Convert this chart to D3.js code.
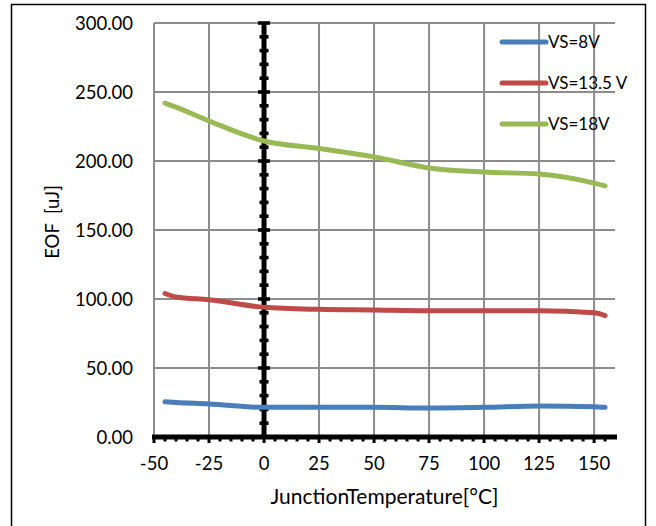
<!DOCTYPE html>
<html>
<head>
<meta charset="utf-8">
<script src="https://cdn.jsdelivr.net/npm/d3@7"></script>
<style>
  body { margin: 0; background: #fff; }
  svg { font-family: Lato, "Open Sans", sans-serif; }
</style>
</head>
<body>
<div id="chart"></div>
<script>
// temperatures (°C) and EOF values (uJ)
var temps = [-45, -40, -25, 0, 25, 50, 75, 100, 125, 150, 155];
var vs8   = [25.5, 25, 24, 21.5, 21.5, 21.5, 21, 21.5, 22.5, 22, 21.5];
var vs135 = [104, 101.5, 99.5, 94, 92.5, 92, 91.5, 91.5, 91.5, 90, 88];
var vs18  = [242, 239, 229, 214.5, 209, 203, 195, 192, 190.5, 184, 182];
var seriesNames = ["VS=8V", "VS=13.5 V", "VS=18V"];
var seriesColors = ["#4a7ebb", "#be4b48", "#98b954"];
var xTicks = [-50, -25, 0, 25, 50, 75, 100, 125, 150];
var yTicks = [0, 50, 100, 150, 200, 250, 300];

var W = 656, H = 526;
var margin = {top: 23, right: 41, bottom: 89, left: 154},
  width = W - margin.left - margin.right,
  height = H - margin.top - margin.bottom;

var svg = d3.select("#chart").append("svg")
  .attr("width", W)
  .attr("height", H);

// outer frame
svg.append("rect")
  .attr("x", 11.5).attr("y", 4.5)
  .attr("width", 634).attr("height", 540)
  .attr("fill", "none").attr("stroke", "#000").attr("stroke-width", 1.5);

var g = svg.append("g")
  .attr("transform", "translate(" + margin.left + "," + margin.top + ")");

var x = d3.scaleLinear().domain([-50, 159.5]).range([0, width]);
var y = d3.scaleLinear().domain([0, 300]).range([height, 0]);

// grid
g.selectAll(".hgrid").data(yTicks.slice(1)).enter().append("line")
  .attr("x1", 0).attr("x2", width)
  .attr("y1", function(d){ return y(d); }).attr("y2", function(d){ return y(d); })
  .attr("stroke", "#8c8c8c").attr("stroke-width", 2);
g.selectAll(".vgrid").data(xTicks).enter().append("line")
  .attr("x1", function(d){ return x(d); }).attr("x2", function(d){ return x(d); })
  .attr("y1", 0).attr("y2", height)
  .attr("stroke", "#8c8c8c").attr("stroke-width", 2);

// x axis: thick line with minor ticks below
var xAxis = g.append("g").attr("transform", "translate(0," + height + ")");
xAxis.append("line").attr("x1", -2).attr("x2", width + 2)
  .attr("stroke", "#000").attr("stroke-width", 5);
xAxis.selectAll(".xminor").data(d3.range(-50, 160, 5)).enter().append("rect")
  .attr("x", function(d){ return x(d) - 1.5; })
  .attr("y", 0)
  .attr("width", 3)
  .attr("height", function(d){ return d % 25 === 0 ? 6 : 4.5; });
xAxis.selectAll(".xlab").data(xTicks).enter().append("text")
  .attr("x", function(d){ return x(d); })
  .attr("y", 33)
  .attr("text-anchor", "middle")
  .style("font-size", "18.5px")
  .text(function(d){ return d; });

// y axis crossing at x=0, with ticks both sides
var yAxis = g.append("g").attr("transform", "translate(" + x(0) + ",0)");
yAxis.append("line").attr("y1", -1).attr("y2", height)
  .attr("stroke", "#000").attr("stroke-width", 5);
yAxis.selectAll(".yminor").data(d3.range(0, 301, 10)).enter().append("rect")
  .attr("x", function(d){ return d % 50 === 0 ? -6 : -4.5; })
  .attr("y", function(d){ return y(d) - 1.8; })
  .attr("width", function(d){ return d % 50 === 0 ? 12 : 9; })
  .attr("height", 3.6);

// y tick labels at left of plot
g.selectAll(".ylab").data(yTicks).enter().append("text")
  .attr("x", -21)
  .attr("y", function(d){ return y(d); })
  .attr("dy", "0.36em")
  .attr("text-anchor", "end")
  .style("font-size", "18.5px")
  .text(function(d){ return d.toFixed(2); });

// lines
var allSeries = [vs8, vs135, vs18];
var line = d3.line()
  .x(function(d, i){ return x(temps[i]); })
  .y(function(d){ return y(d); })
  .curve(d3.curveMonotoneX);

g.selectAll(".series").data(allSeries).enter().append("path")
  .attr("d", line)
  .attr("fill", "none")
  .attr("stroke", function(d, i){ return seriesColors[i]; })
  .attr("stroke-width", 5)
  .attr("stroke-linecap", "round")
  .attr("stroke-linejoin", "round");

// legend
var legend = svg.selectAll(".legend").data(seriesNames).enter().append("g")
  .attr("transform", function(d, i){ return "translate(500," + (42 + i * 41) + ")"; });
legend.append("line")
  .attr("x1", 2).attr("x2", 46)
  .attr("stroke", function(d, i){ return seriesColors[i]; })
  .attr("stroke-width", 5)
  .attr("stroke-linecap", "round");
legend.append("text")
  .attr("x", 48).attr("dy", "0.36em")
  .style("font-size", "17px")
  .text(function(d){ return d; });

// axis titles
svg.append("text")
  .attr("x", margin.left + width / 2)
  .attr("y", 504)
  .attr("text-anchor", "middle")
  .style("font-size", "21px")
  .text("JunctionTemperature[°C]");

svg.append("text")
  .attr("transform", "translate(59,222) rotate(-90)")
  .attr("text-anchor", "middle")
  .style("font-size", "18.5px")
  .style("white-space", "pre")
  .text("EOF  [uJ]");
</script>
</body>
</html>
